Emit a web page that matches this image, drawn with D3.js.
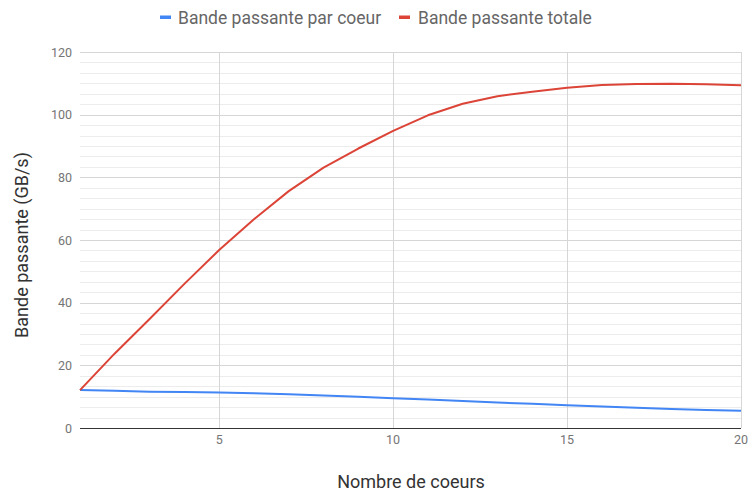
<!DOCTYPE html>
<html><head><meta charset="utf-8">
<script src="https://cdn.jsdelivr.net/npm/d3@7"></script>
<style>body{margin:0;background:#fff;} svg{display:block;font-family:Roboto, "Noto Sans", sans-serif;}</style>
</head><body><div id="chart"></div>
<script>
const cores = [1,2,3,4,5,6,7,8,9,10,11,12,13,14,15,16,17,18,19,20];
const perCore = [12.1,11.9,11.6,11.5,11.35,11.1,10.8,10.4,9.95,9.5,9.1,8.6,8.15,7.7,7.25,6.85,6.45,6.1,5.78,5.47];
const total = [12.1,23.8,34.8,46.0,56.8,66.6,75.6,83.1,89.2,94.8,99.8,103.5,105.9,107.3,108.6,109.5,109.8,109.9,109.7,109.4];
const xTicks = [5,10,15,20];
const yTicks = [0,20,40,60,80,100,120];
const seriesNames = ["Bande passante par coeur","Bande passante totale"];
const colors = ["#4285F4","#DB4437"];

const W=749,H=494;
const svg=d3.select("#chart").append("svg").attr("width",W).attr("height",H);
const x=d3.scaleLinear().domain([1,20]).range([80,741]);
const y=d3.scaleLinear().domain([0,120]).range([428,52]);

// minor gridlines
const minor=[];
for(let v=0;v<=120+1e-9;v+=20/6){ if(Math.abs(v/20-Math.round(v/20))>1e-6) minor.push(v); }
svg.append("g").selectAll("line").data(minor).join("line")
  .attr("x1",x(1)).attr("x2",x(20)).attr("y1",d=>Math.round(y(d))+0.5).attr("y2",d=>Math.round(y(d))+0.5)
  .attr("stroke","#ececec").attr("stroke-width",1);
// major horizontal
svg.append("g").selectAll("line").data(yTicks.filter(d=>d>0)).join("line")
  .attr("x1",x(1)).attr("x2",x(20)).attr("y1",d=>Math.round(y(d))+0.5).attr("y2",d=>Math.round(y(d))+0.5)
  .attr("stroke","#d6d6d6").attr("stroke-width",1);
// vertical
svg.append("g").selectAll("line").data(xTicks).join("line")
  .attr("x1",d=>Math.round(x(d))+0.5).attr("x2",d=>Math.round(x(d))+0.5).attr("y1",y(120)).attr("y2",y(0))
  .attr("stroke","#d6d6d6").attr("stroke-width",1);
// baseline
svg.append("line").attr("x1",x(1)).attr("x2",x(20)).attr("y1",y(0)+0.5).attr("y2",y(0)+0.5)
  .attr("stroke","#333").attr("stroke-width",1);

// tick labels
svg.append("g").selectAll("text").data(yTicks).join("text")
  .attr("x",72).attr("y",d=>y(d)+4.5).attr("text-anchor","end")
  .attr("font-size",12.5).attr("fill","#757575").text(d=>d);
svg.append("g").selectAll("text").data(xTicks).join("text")
  .attr("x",d=>x(d)).attr("y",444).attr("text-anchor","middle")
  .attr("font-size",12.5).attr("fill","#757575").text(d=>d);

// lines
const line=d3.line().x((d,i)=>x(cores[i])).y(d=>y(d));
[perCore,total].forEach((s,i)=>{
  svg.append("path").datum(s).attr("d",line).attr("fill","none")
    .attr("stroke",colors[i]).attr("stroke-width",2).attr("stroke-linejoin","round");
});

// legend
const lg=[{x:160,tx:178},{x:399,tx:418}];
seriesNames.forEach((n,i)=>{
  svg.append("rect").attr("x",lg[i].x).attr("y",15.5).attr("width",11).attr("height",3.5).attr("fill",colors[i]);
  svg.append("text").attr("x",lg[i].tx).attr("y",23.5).attr("font-size",17.5).attr("fill","#666").text(n);
});

// axis titles
svg.append("text").attr("x",411).attr("y",488).attr("text-anchor","middle")
  .attr("font-size",18).attr("fill","#333").text("Nombre de coeurs");
svg.append("text").attr("transform","translate(28,245) rotate(-90)").attr("text-anchor","middle")
  .attr("font-size",18).attr("fill","#333").text("Bande passante (GB/s)");
</script></body></html>
